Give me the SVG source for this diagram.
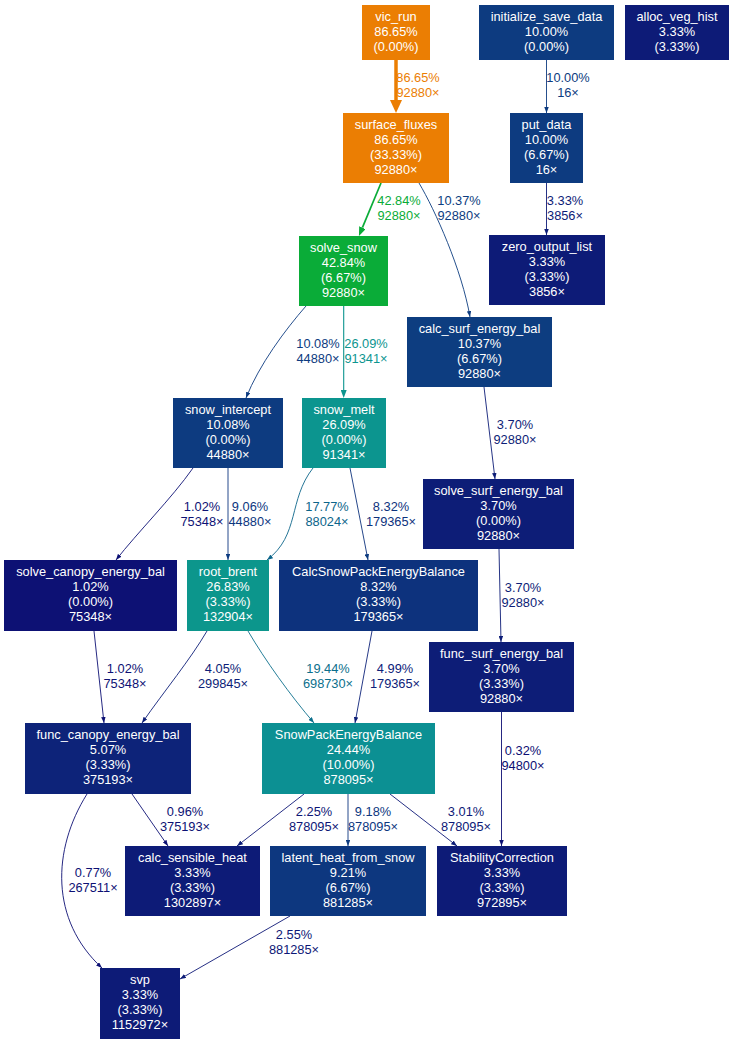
<svg xmlns="http://www.w3.org/2000/svg" width="734" height="1044" viewBox="0 0 734 1044">
<style>
text{font-family:"Liberation Sans",Arial,sans-serif;font-size:12.8px;text-anchor:middle}
.n text{fill:#ffffff}
.e path{fill:none}
</style>
<defs>
<marker id="mo" viewBox="0 0 10 10" refX="0" refY="5" markerUnits="userSpaceOnUse" markerWidth="13" markerHeight="12" orient="auto" preserveAspectRatio="none"><path d="M0,0 L10,5 L0,10 z" fill="#eb7e03"/></marker>
<marker id="mg" viewBox="0 0 10 10" refX="0" refY="5" markerUnits="userSpaceOnUse" markerWidth="9" markerHeight="7" orient="auto" preserveAspectRatio="none"><path d="M0,0 L10,5 L0,10 z" fill="#0aac38"/></marker>
<marker id="mt" viewBox="0 0 10 10" refX="0" refY="5" markerUnits="userSpaceOnUse" markerWidth="8" markerHeight="6" orient="auto" preserveAspectRatio="none"><path d="M0,0 L10,5 L0,10 z" fill="#0c958f"/></marker>
<marker id="m10" viewBox="0 0 10 10" refX="10" refY="5" markerUnits="userSpaceOnUse" markerWidth="6" markerHeight="4.5" orient="auto" preserveAspectRatio="none"><path d="M0,0 L10,5 L0,10 z" fill="#0d3b80"/></marker>
<marker id="m4" viewBox="0 0 10 10" refX="10" refY="5" markerUnits="userSpaceOnUse" markerWidth="6" markerHeight="4.5" orient="auto" preserveAspectRatio="none"><path d="M0,0 L10,5 L0,10 z" fill="#0d1d77"/></marker>
<marker id="m1" viewBox="0 0 10 10" refX="10" refY="5" markerUnits="userSpaceOnUse" markerWidth="6" markerHeight="4.5" orient="auto" preserveAspectRatio="none"><path d="M0,0 L10,5 L0,10 z" fill="#0d1174"/></marker>
<marker id="m17" viewBox="0 0 10 10" refX="10" refY="5" markerUnits="userSpaceOnUse" markerWidth="6" markerHeight="4.5" orient="auto" preserveAspectRatio="none"><path d="M0,0 L10,5 L0,10 z" fill="#0c658a"/></marker>
<marker id="m19" viewBox="0 0 10 10" refX="10" refY="5" markerUnits="userSpaceOnUse" markerWidth="6" markerHeight="4.5" orient="auto" preserveAspectRatio="none"><path d="M0,0 L10,5 L0,10 z" fill="#0c6f8c"/></marker>
</defs>
<rect x="0" y="0" width="734" height="1044" fill="#ffffff"/>
<g id="edges" class="e">
<path d="M396,60 L396,100" stroke="#eb7e03" stroke-width="3.5" marker-end="url(#mo)"/>
<text x="418" y="82" fill="#eb7e03">86.65%</text><text x="418" y="97" fill="#eb7e03">92880×</text>
<path d="M546.5,60 L546.5,113" stroke="#0d3b80" stroke-width="0.9" marker-end="url(#m10)"/>
<text x="568" y="82" fill="#0d3b80">10.00%</text><text x="568" y="97" fill="#0d3b80">16×</text>
<path d="M381,183 L362.4,227.7" stroke="#0aac38" stroke-width="1.7" marker-end="url(#mg)"/>
<text x="399" y="205" fill="#0aac38">42.84%</text><text x="399" y="220" fill="#0aac38">92880×</text>
<path d="M419,183 C435,210 462,270 470,317" stroke="#0d3d80" stroke-width="0.9" marker-end="url(#m10)"/>
<text x="459" y="205" fill="#0d3d80">10.37%</text><text x="459" y="220" fill="#0d3d80">92880×</text>
<path d="M546.5,183 L546.5,235" stroke="#0d1b77" stroke-width="0.9" marker-end="url(#m4)"/>
<text x="565" y="205" fill="#0d1b77">3.33%</text><text x="565" y="220" fill="#0d1b77">3856×</text>
<path d="M306,306 C285,330 259,365 246,398" stroke="#0d3b80" stroke-width="0.9" marker-end="url(#m10)"/>
<text x="318" y="348" fill="#0d3b80">10.08%</text><text x="318" y="363" fill="#0d3b80">44880×</text>
<path d="M343.7,306 L343.7,390" stroke="#0c958f" stroke-width="1.1" marker-end="url(#mt)"/>
<text x="366" y="348" fill="#0c958f">26.09%</text><text x="366" y="363" fill="#0c958f">91341×</text>
<path d="M484,387 L495,479" stroke="#0d1d77" stroke-width="0.9" marker-end="url(#m4)"/>
<text x="515" y="429" fill="#0d1d77">3.70%</text><text x="515" y="444" fill="#0d1d77">92880×</text>
<path d="M193,468 C172,498 137,533 116,560" stroke="#0d1174" stroke-width="0.9" marker-end="url(#m1)"/>
<text x="202" y="511" fill="#0d1174">1.02%</text><text x="202" y="526" fill="#0d1174">75348×</text>
<path d="M228,468 L228,560" stroke="#0d377f" stroke-width="0.9" marker-end="url(#m10)"/>
<text x="250" y="511" fill="#0d377f">9.06%</text><text x="250" y="526" fill="#0d377f">44880×</text>
<path d="M313,468 C288,500 300,535 267,560" stroke="#0c658a" stroke-width="0.9" marker-end="url(#m17)"/>
<text x="327" y="511" fill="#0c658a">17.77%</text><text x="327" y="526" fill="#0c658a">88024×</text>
<path d="M350,468 L368,560" stroke="#0d327d" stroke-width="0.9" marker-end="url(#m10)"/>
<text x="391" y="511" fill="#0d327d">8.32%</text><text x="391" y="526" fill="#0d327d">179365×</text>
<path d="M499,549 L501,642" stroke="#0d1d77" stroke-width="0.9" marker-end="url(#m4)"/>
<text x="523" y="592" fill="#0d1d77">3.70%</text><text x="523" y="607" fill="#0d1d77">92880×</text>
<path d="M94,631 L104,723" stroke="#0d1174" stroke-width="0.9" marker-end="url(#m1)"/>
<text x="125" y="673" fill="#0d1174">1.02%</text><text x="125" y="688" fill="#0d1174">75348×</text>
<path d="M207,631 C190,660 165,690 142,723" stroke="#0d1e78" stroke-width="0.9" marker-end="url(#m4)"/>
<text x="223" y="673" fill="#0d1e78">4.05%</text><text x="223" y="688" fill="#0d1e78">299845×</text>
<path d="M248,631 C265,660 290,695 314,723" stroke="#0c6f8c" stroke-width="0.9" marker-end="url(#m19)"/>
<text x="328" y="673" fill="#0c6f8c">19.44%</text><text x="328" y="688" fill="#0c6f8c">698730×</text>
<path d="M372,631 L355,723" stroke="#0d2279" stroke-width="0.9" marker-end="url(#m4)"/>
<text x="395" y="673" fill="#0d2279">4.99%</text><text x="395" y="688" fill="#0d2279">179365×</text>
<path d="M501.5,712 L501.5,846" stroke="#0d0e73" stroke-width="0.9" marker-end="url(#m1)"/>
<text x="523" y="755" fill="#0d0e73">0.32%</text><text x="523" y="770" fill="#0d0e73">94800×</text>
<path d="M132,794 L168,846" stroke="#0d1174" stroke-width="0.9" marker-end="url(#m1)"/>
<text x="185" y="816" fill="#0d1174">0.96%</text><text x="185" y="831" fill="#0d1174">375193×</text>
<path d="M304,794 L237,846" stroke="#0d1676" stroke-width="0.9" marker-end="url(#m4)"/>
<text x="314" y="816" fill="#0d1676">2.25%</text><text x="314" y="831" fill="#0d1676">878095×</text>
<path d="M348,794 L348,846" stroke="#0d377f" stroke-width="0.9" marker-end="url(#m10)"/>
<text x="373" y="816" fill="#0d377f">9.18%</text><text x="373" y="831" fill="#0d377f">878095×</text>
<path d="M390,794 L457,846" stroke="#0d1977" stroke-width="0.9" marker-end="url(#m4)"/>
<text x="466" y="816" fill="#0d1977">3.01%</text><text x="466" y="831" fill="#0d1977">878095×</text>
<path d="M87,794 C52,850 50,920 102,968" stroke="#0d1074" stroke-width="0.9" marker-end="url(#m1)"/>
<text x="93" y="877" fill="#0d1074">0.77%</text><text x="93" y="892" fill="#0d1074">267511×</text>
<path d="M290,916 L180,979" stroke="#0d1776" stroke-width="0.9" marker-end="url(#m4)"/>
<text x="294" y="939" fill="#0d1776">2.55%</text><text x="294" y="954" fill="#0d1776">881285×</text>
</g>
<g id="vic_run" class="n"><rect x="362" y="5" width="68" height="55" fill="#eb7e03"/><text x="396" y="21">vic_run</text><text x="396" y="36">86.65%</text><text x="396" y="51">(0.00%)</text></g>
<g id="initialize_save_data" class="n"><rect x="479" y="5" width="135" height="55" fill="#0d3b80"/><text x="546.5" y="21">initialize_save_data</text><text x="546.5" y="36">10.00%</text><text x="546.5" y="51">(0.00%)</text></g>
<g id="alloc_veg_hist" class="n"><rect x="625" y="5" width="104" height="55" fill="#0d1b77"/><text x="677" y="21">alloc_veg_hist</text><text x="677" y="36">3.33%</text><text x="677" y="51">(3.33%)</text></g>
<g id="surface_fluxes" class="n"><rect x="343" y="113" width="106" height="70" fill="#eb7e03"/><text x="396" y="129">surface_fluxes</text><text x="396" y="144">86.65%</text><text x="396" y="159">(33.33%)</text><text x="396" y="174">92880×</text></g>
<g id="put_data" class="n"><rect x="510" y="113" width="73" height="70" fill="#0d3b80"/><text x="546.5" y="129">put_data</text><text x="546.5" y="144">10.00%</text><text x="546.5" y="159">(6.67%)</text><text x="546.5" y="174">16×</text></g>
<g id="zero_output_list" class="n"><rect x="489" y="235" width="116" height="70" fill="#0d1b77"/><text x="547" y="251">zero_output_list</text><text x="547" y="266">3.33%</text><text x="547" y="281">(3.33%)</text><text x="547" y="296">3856×</text></g>
<g id="solve_snow" class="n"><rect x="299" y="236" width="89" height="70" fill="#0aac38"/><text x="343.5" y="252">solve_snow</text><text x="343.5" y="267">42.84%</text><text x="343.5" y="282">(6.67%)</text><text x="343.5" y="297">92880×</text></g>
<g id="calc_surf_energy_bal" class="n"><rect x="407" y="317" width="145" height="70" fill="#0d3d80"/><text x="479.5" y="333">calc_surf_energy_bal</text><text x="479.5" y="348">10.37%</text><text x="479.5" y="363">(6.67%)</text><text x="479.5" y="378">92880×</text></g>
<g id="snow_intercept" class="n"><rect x="173" y="398" width="110" height="70" fill="#0d3b80"/><text x="228" y="414">snow_intercept</text><text x="228" y="429">10.08%</text><text x="228" y="444">(0.00%)</text><text x="228" y="459">44880×</text></g>
<g id="snow_melt" class="n"><rect x="302" y="398" width="84" height="70" fill="#0c958f"/><text x="344" y="414">snow_melt</text><text x="344" y="429">26.09%</text><text x="344" y="444">(0.00%)</text><text x="344" y="459">91341×</text></g>
<g id="solve_surf_energy_bal" class="n"><rect x="423" y="479" width="151" height="70" fill="#0d1d77"/><text x="498.5" y="495">solve_surf_energy_bal</text><text x="498.5" y="510">3.70%</text><text x="498.5" y="525">(0.00%)</text><text x="498.5" y="540">92880×</text></g>
<g id="solve_canopy_energy_bal" class="n"><rect x="4" y="560" width="173" height="71" fill="#0d1174"/><text x="90.5" y="576">solve_canopy_energy_bal</text><text x="90.5" y="591">1.02%</text><text x="90.5" y="606">(0.00%)</text><text x="90.5" y="621">75348×</text></g>
<g id="root_brent" class="n"><rect x="187" y="560" width="82" height="71" fill="#0c968c"/><text x="228" y="576">root_brent</text><text x="228" y="591">26.83%</text><text x="228" y="606">(3.33%)</text><text x="228" y="621">132904×</text></g>
<g id="CalcSnowPackEnergyBalance" class="n"><rect x="279" y="560" width="199" height="71" fill="#0d327d"/><text x="378.5" y="576">CalcSnowPackEnergyBalance</text><text x="378.5" y="591">8.32%</text><text x="378.5" y="606">(3.33%)</text><text x="378.5" y="621">179365×</text></g>
<g id="func_surf_energy_bal" class="n"><rect x="429" y="642" width="145" height="70" fill="#0d1d77"/><text x="501.5" y="658">func_surf_energy_bal</text><text x="501.5" y="673">3.70%</text><text x="501.5" y="688">(3.33%)</text><text x="501.5" y="703">92880×</text></g>
<g id="func_canopy_energy_bal" class="n"><rect x="25" y="723" width="166" height="71" fill="#0d2379"/><text x="108" y="739">func_canopy_energy_bal</text><text x="108" y="754">5.07%</text><text x="108" y="769">(3.33%)</text><text x="108" y="784">375193×</text></g>
<g id="SnowPackEnergyBalance" class="n"><rect x="262" y="723" width="173" height="71" fill="#0c9093"/><text x="348.5" y="739">SnowPackEnergyBalance</text><text x="348.5" y="754">24.44%</text><text x="348.5" y="769">(10.00%)</text><text x="348.5" y="784">878095×</text></g>
<g id="calc_sensible_heat" class="n"><rect x="125" y="846" width="135" height="70" fill="#0d1b77"/><text x="192.5" y="862">calc_sensible_heat</text><text x="192.5" y="877">3.33%</text><text x="192.5" y="892">(3.33%)</text><text x="192.5" y="907">1302897×</text></g>
<g id="latent_heat_from_snow" class="n"><rect x="270" y="846" width="156" height="70" fill="#0d377f"/><text x="348" y="862">latent_heat_from_snow</text><text x="348" y="877">9.21%</text><text x="348" y="892">(6.67%)</text><text x="348" y="907">881285×</text></g>
<g id="StabilityCorrection" class="n"><rect x="437" y="846" width="130" height="70" fill="#0d1b77"/><text x="502" y="862">StabilityCorrection</text><text x="502" y="877">3.33%</text><text x="502" y="892">(3.33%)</text><text x="502" y="907">972895×</text></g>
<g id="svp" class="n"><rect x="100" y="968" width="80" height="71" fill="#0d1b77"/><text x="140" y="984">svp</text><text x="140" y="999">3.33%</text><text x="140" y="1014">(3.33%)</text><text x="140" y="1029">1152972×</text></g>
</svg>
